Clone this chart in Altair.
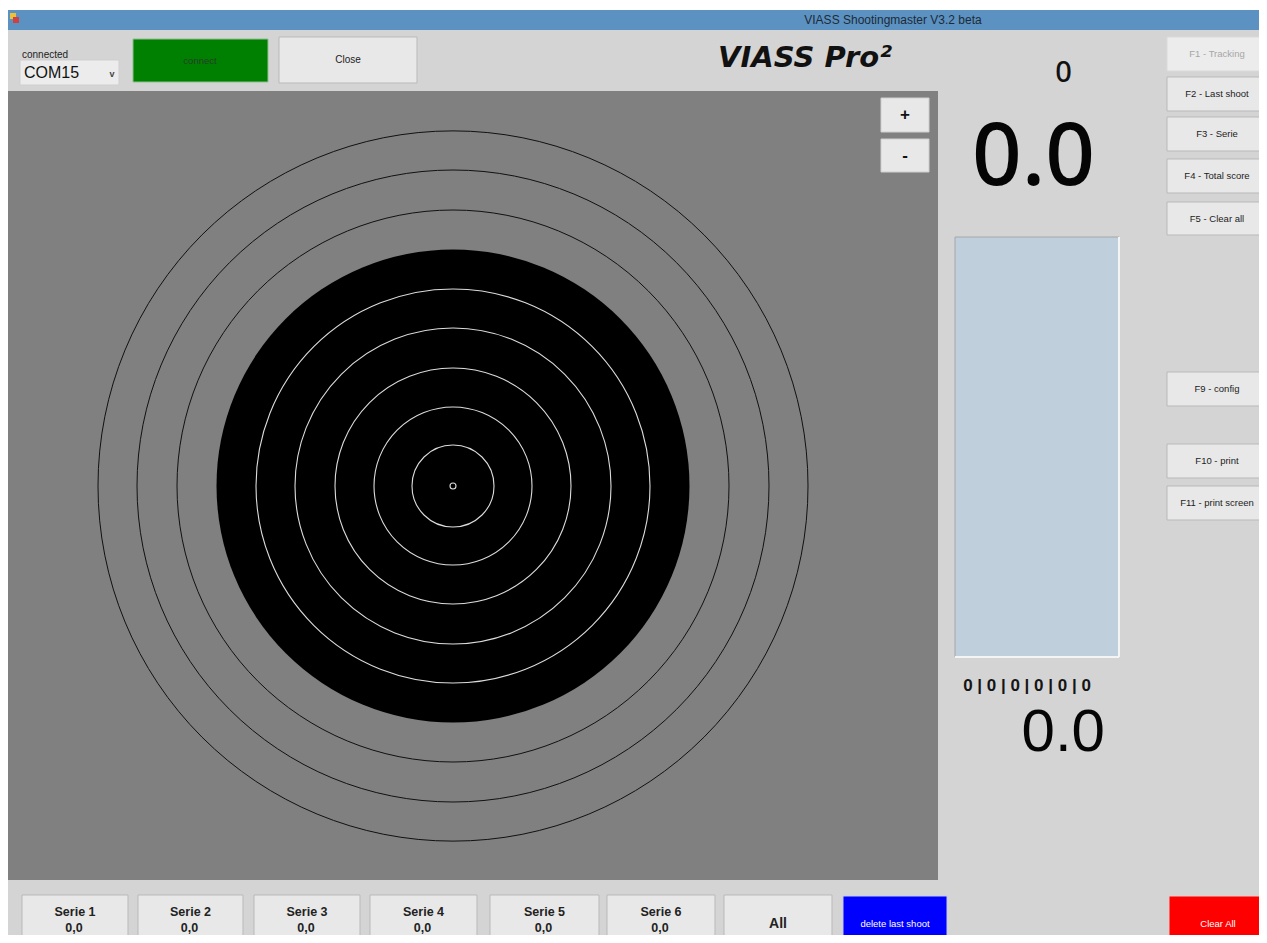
import altair as alt
import pandas as pd

# ---------------- data ----------------
window_title = "VIASS Shootingmaster V3.2 beta"
brand = "VIASS Pro²"
port_label = "connected"
port_value = "COM15"

# target: ring radii in screen pixels (one ring every ~39.4 px)
white_ring_r = [41, 79, 118, 158, 197]
black_disc_r = [236.5]
outer_ring_r = [276, 316, 355]
center_dot_r = [3]
target_cx = 453
target_cy = 486

# score displays
shot_count = "0"
last_shot = "0.0"
serie_scores = ["0", "0", "0", "0", "0", "0"]
total_score = "0.0"

# bottom buttons
serie_names = ["Serie 1", "Serie 2", "Serie 3", "Serie 4", "Serie 5", "Serie 6"]
serie_values = ["0,0", "0,0", "0,0", "0,0", "0,0", "0,0"]
serie_x0 = [22, 138, 254, 370, 490, 607]
serie_x1 = [128, 243, 360, 477, 599, 715]

# right-hand function-key buttons
fkey_labels = ["F1 - Tracking", "F2 - Last shoot", "F3 - Serie", "F4 - Total score",
               "F5 - Clear all", "F9 - config", "F10 - print", "F11 - print screen"]
fkey_y0 = [37, 77, 117, 159, 202, 372, 444, 486]
fkey_y1 = [71, 111, 151, 193, 235, 406, 478, 520]
fkey_enabled = [False, True, True, True, True, True, True, True]

# ---------------- colours ----------------
BG = "#d4d4d4"
PANEL = "#808080"
TITLEBAR = "#5b92c2"
BTN = "#e8e8e8"
BTN_STROKE = "#b9b9b9"

# ---------------- tables ----------------
rects = []
def rect(x0, y0, x1, y1, fill, stroke="transparent"):
    rects.append(dict(x=x0, x2=x1, y=y0, y2=y1, fill=fill, stroke=stroke))

rect(8, 10, 1267, 30, TITLEBAR)
rect(8, 30, 1267, 943, BG)
rect(8, 91, 938, 880, PANEL)
# app icon
rect(10, 13, 16, 19, "#e8c23a")
rect(13, 17, 19, 23, "#d04040")
# combo box
rect(20, 60, 119, 85, "#ececec", "#cfcfcf")
# connect / close
rect(133, 39, 268, 82, "#008000", "#8fbf8f")
rect(279, 37, 417, 83, BTN, BTN_STROKE)
# zoom buttons
rect(881, 98, 929, 132, BTN, "#cfcfcf")
rect(881, 139, 929, 172, BTN, "#cfcfcf")
# shot list panel
rect(955, 237, 1119, 657, "#bfcfdc", "#a8a8a8")
# function keys
for lab, y0, y1, en in zip(fkey_labels, fkey_y0, fkey_y1, fkey_enabled):
    rect(1167, y0, 1270, y1, BTN if en else "#ececec", BTN_STROKE if en else "#dadada")
# bottom buttons
for x0, x1 in zip(serie_x0, serie_x1):
    rect(x0, 895, x1, 950, BTN, BTN_STROKE)
rect(724, 895, 832, 950, BTN, BTN_STROKE)
rect(843, 896, 947, 950, "#0000ff", "#c8c8e8")
rect(1169, 896, 1270, 950, "#ff0000", "#e8c8c8")
rect_df = pd.DataFrame(rects)

lines_df = pd.DataFrame([
    dict(x=1119, x2=1119, y=237, y2=657),
    dict(x=955, x2=1119, y=657, y2=657),
])

circles = []
for r in outer_ring_r:
    circles.append(dict(x=target_cx, y=target_cy, size=(2 * r) ** 2, kind="outer"))
for r in black_disc_r:
    circles.append(dict(x=target_cx, y=target_cy, size=(2 * r) ** 2, kind="disc"))
for r in white_ring_r + center_dot_r:
    circles.append(dict(x=target_cx, y=target_cy, size=(2 * r) ** 2, kind="white"))
circ_df = pd.DataFrame(circles)

texts = []
def text(x, y, t, style):
    texts.append(dict(x=x, y=y, t=t, style=style))

text(893, 20, window_title, "titlebar")
text(22, 55, port_label, "small_left")
text(24, 73, port_value, "combo")
text(112, 74, "v", "chev")
text(200, 61, "connect", "connect")
text(348, 60, "Close", "btn")
text(805, 67, brand, "brand")
text(1063.5, 82, shot_count, "count")
text(1033.5, 185, last_shot, "big")
text(905, 115, "+", "pm")
text(905, 156, "-", "pm")
text(1027, 686, " | ".join(serie_scores), "series")
text(1105, 751, total_score, "total")
for lab, y0, y1, en in zip(fkey_labels, fkey_y0, fkey_y1, fkey_enabled):
    text(1217, (y0 + y1) / 2, lab, "fkey" if en else "fkey_off")
for nm, val, x0, x1 in zip(serie_names, serie_values, serie_x0, serie_x1):
    text((x0 + x1) / 2, 912, nm, "serie")
    text((x0 + x1) / 2 - 1, 928, val, "serie")
text(778, 924, "All", "all")
text(895, 924, "delete last shoot", "white_btn")
text(1218, 924, "Clear All", "white_btn")
text_df = pd.DataFrame(texts)

# ---------------- chart ----------------
X = alt.X("x:Q", scale=alt.Scale(domain=[8, 1259], nice=False, zero=False), axis=None)
Y = alt.Y("y:Q", scale=alt.Scale(domain=[8, 935], nice=False, zero=False, reverse=True), axis=None)

rect_layer = alt.Chart(rect_df).mark_rect(strokeWidth=1, clip=True).encode(
    x=X, x2="x2:Q", y=Y, y2="y2:Q",
    fill=alt.Fill("fill:N", scale=None),
    stroke=alt.Stroke("stroke:N", scale=None),
)

line_layer = alt.Chart(lines_df).mark_rule(color="#f4f4f4", strokeWidth=2).encode(
    x=X, x2="x2:Q", y=Y, y2="y2:Q")

outer = alt.Chart(circ_df).transform_filter("datum.kind == 'outer'").mark_point(
    shape="circle", filled=False, stroke="#111111", strokeWidth=1, opacity=1
).encode(x=X, y=Y, size=alt.Size("size:Q", scale=None))

disc = alt.Chart(circ_df).transform_filter("datum.kind == 'disc'").mark_point(
    shape="circle", filled=True, color="#000000", opacity=1
).encode(x=X, y=Y, size=alt.Size("size:Q", scale=None))

white = alt.Chart(circ_df).transform_filter("datum.kind == 'white'").mark_point(
    shape="circle", filled=False, stroke="#dcdcdc", strokeWidth=1.1, opacity=1
).encode(x=X, y=Y, size=alt.Size("size:Q", scale=None))

SANS = "Liberation Sans"
styles = {
    "titlebar": dict(fontSize=12, color="#1e2a36", align="center", baseline="middle", font=SANS),
    "small_left": dict(fontSize=10, color="#222222", align="left", baseline="middle", font=SANS),
    "combo": dict(fontSize=16, color="#111111", align="left", baseline="middle", font=SANS),
    "chev": dict(fontSize=9, color="#444444", align="center", baseline="middle", font=SANS, fontWeight="bold"),
    "connect": dict(fontSize=9.5, color="#2b3a2b", align="center", baseline="middle", font=SANS),
    "btn": dict(fontSize=10, color="#222222", align="center", baseline="middle", font=SANS),
    "brand": dict(fontSize=29, color="#111111", align="center", baseline="alphabetic", font="DejaVu Sans", fontWeight="bold", fontStyle="italic"),
    "count": dict(fontSize=29, color="#111111", align="center", baseline="alphabetic", font="Noto Sans", fontWeight=500),
    "big": dict(fontSize=87, color="#050505", align="center", baseline="alphabetic", font="Noto Sans", fontWeight=500),
    "pm": dict(fontSize=17, color="#111111", align="center", baseline="middle", font=SANS, fontWeight="bold"),
    "series": dict(fontSize=17, color="#151515", align="center", baseline="middle", font=SANS, fontWeight="bold"),
    "total": dict(fontSize=60, color="#050505", align="right", baseline="alphabetic", font=SANS),
    "fkey": dict(fontSize=9.5, color="#222222", align="center", baseline="middle", font=SANS),
    "fkey_off": dict(fontSize=9.5, color="#a6a6a6", align="center", baseline="middle", font=SANS),
    "serie": dict(fontSize=12.5, color="#222222", align="center", baseline="middle", font=SANS, fontWeight="bold"),
    "all": dict(fontSize=14, color="#222222", align="center", baseline="middle", font=SANS, fontWeight="bold"),
    "white_btn": dict(fontSize=9.5, color="#ffffff", align="center", baseline="middle", font=SANS),
}

text_layers = []
for name, st in styles.items():
    text_layers.append(
        alt.Chart(text_df).transform_filter(f"datum.style == '{name}'")
        .mark_text(clip=True, **st)
        .encode(x=X, y=Y, text="t:N")
    )

chart = alt.layer(rect_layer, line_layer, outer, disc, white, *text_layers).properties(
    width=1251, height=927,
    autosize=alt.AutoSizeParams(type="fit", contains="padding"),
    padding=0,
    background="#ffffff",
).configure_view(stroke=None)

chart.save("out.html", embed_options={"renderer": "svg", "actions": False})
